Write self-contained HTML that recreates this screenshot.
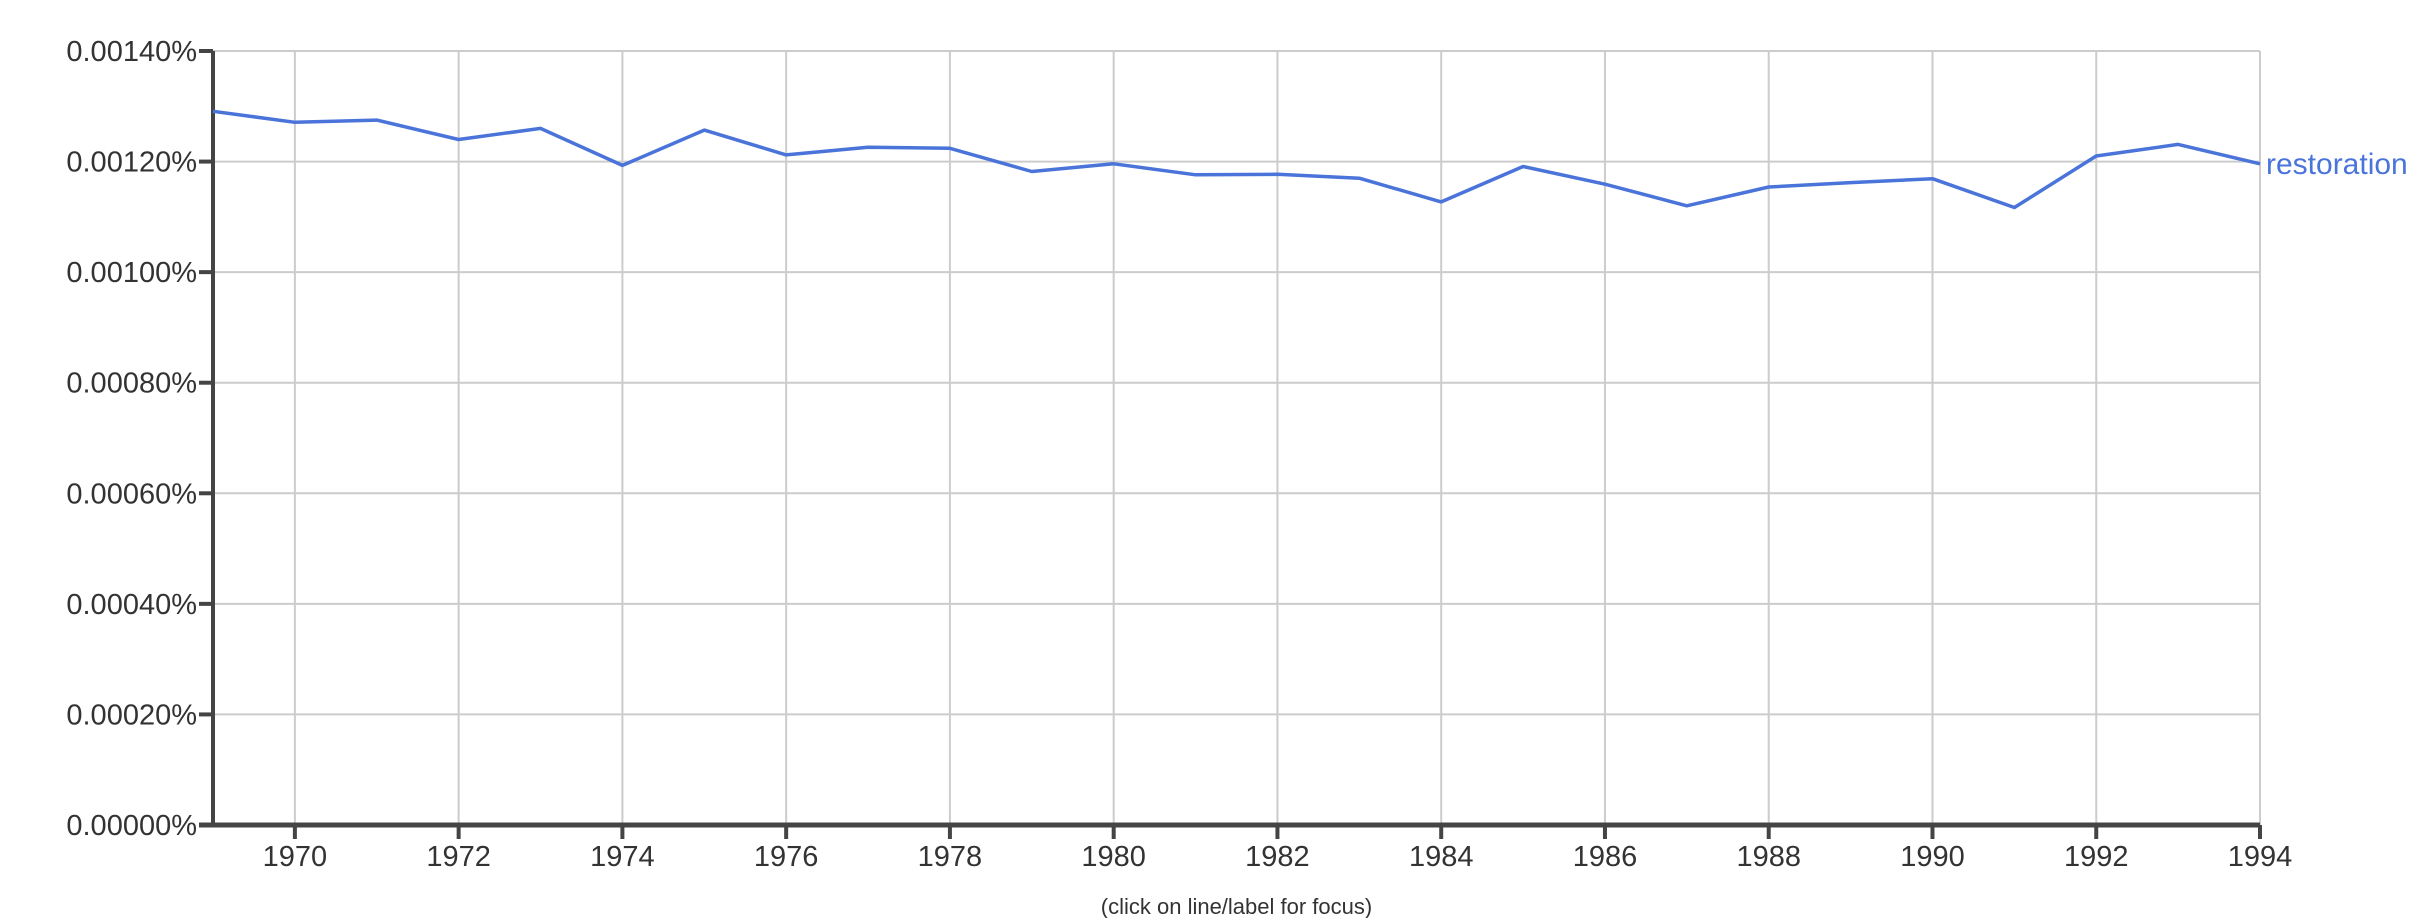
<!DOCTYPE html>
<html><head><meta charset="utf-8"><style>
html,body{margin:0;padding:0;background:#fff;}
svg{display:block;font-family:"Liberation Sans",Arial,sans-serif;}
</style></head><body>
<svg id="chart" width="2426" height="918" viewBox="0 0 2426 918" xmlns="http://www.w3.org/2000/svg"></svg>
<script>
const years = [1969,1970,1971,1972,1973,1974,1975,1976,1977,1978,1979,1980,1981,1982,1983,1984,1985,1986,1987,1988,1989,1990,1991,1992,1993,1994];
const restorationValues = [0.001291,0.001271,0.001275,0.001240,0.001260,0.001193,0.001257,0.001212,0.001226,0.001224,0.001182,0.001196,0.001176,0.001177,0.001170,0.001127,0.001191,0.001159,0.001120,0.001154,0.001162,0.001169,0.001117,0.001210,0.001231,0.001196];
const yTickValues = [0,0.0002,0.0004,0.0006,0.0008,0.0010,0.0012,0.0014];
const yTickLabels = ["0.00000%","0.00020%","0.00040%","0.00060%","0.00080%","0.00100%","0.00120%","0.00140%"];
const xTickYears = [1970,1972,1974,1976,1978,1980,1982,1984,1986,1988,1990,1992,1994];

const NS="http://www.w3.org/2000/svg";
const svg=document.getElementById('chart');
const L=213,R=2260,T=51,B=825;
const xMin=1969,xMax=1994,yMin=0,yMax=0.0014;
function xs(v){return L+(v-xMin)/(xMax-xMin)*(R-L);}
function ys(v){return B-(v-yMin)/(yMax-yMin)*(B-T);}
function mk(tag,attrs,parent){const e=document.createElementNS(NS,tag);for(const k in attrs)e.setAttribute(k,attrs[k]);(parent||svg).appendChild(e);return e;}

const grid=mk('g',{});


yTickValues.forEach((v,i)=>{
  if(v>0){const g=mk('line',{x1:L,x2:R,y1:ys(v),y2:ys(v),stroke:'#cccccc','stroke-width':2},grid);
  
  }
  const t=mk('line',{x1:L-14,x2:L,y1:ys(v),y2:ys(v),stroke:'#444','stroke-width':4});
  
  
  const lab=mk('text',{x:L-16,y:ys(v)+10,'text-anchor':'end','font-size':29,fill:'#333'});
  lab.textContent=yTickLabels[i];
  
  
});
xTickYears.forEach(yr=>{
  const g=mk('line',{x1:xs(yr),x2:xs(yr),y1:T,y2:B,stroke:'#cccccc','stroke-width':2},grid);
  
  
  const t=mk('line',{x1:xs(yr),x2:xs(yr),y1:B,y2:B+14,stroke:'#444','stroke-width':4});
  
  
  const lab=mk('text',{x:xs(yr),y:B+41,'text-anchor':'middle','font-size':29,fill:'#333'});
  lab.textContent=yr;
  
  
});
const rb=mk('line',{x1:R,x2:R,y1:T,y2:B,stroke:'#cccccc','stroke-width':2},grid);


const tb=mk('line',{x1:L,x2:R,y1:T,y2:T,stroke:'#cccccc','stroke-width':2},grid);



const ya=mk('line',{x1:L,x2:L,y1:T,y2:B+2,stroke:'#444','stroke-width':4});


const xa=mk('line',{x1:L-14,x2:R,y1:B,y2:B,stroke:'#444','stroke-width':5});



const pts=years.map((y,i)=>xs(y).toFixed(1)+','+ys(restorationValues[i]).toFixed(1)).join(' ');
const line=mk('polyline',{points:pts,fill:'none',stroke:'#4a74d9','stroke-width':3.5,'stroke-linejoin':'round'});


const last=restorationValues[restorationValues.length-1];
const sl=mk('text',{x:R+6,y:ys(last)+10,'font-size':30,fill:'#4a74d9'});
sl.textContent='restoration';


const note=mk('text',{x:(L+R)/2,y:914,'text-anchor':'middle','font-size':22,fill:'#333'});
note.textContent='(click on line/label for focus)';


</script>
</body></html>
